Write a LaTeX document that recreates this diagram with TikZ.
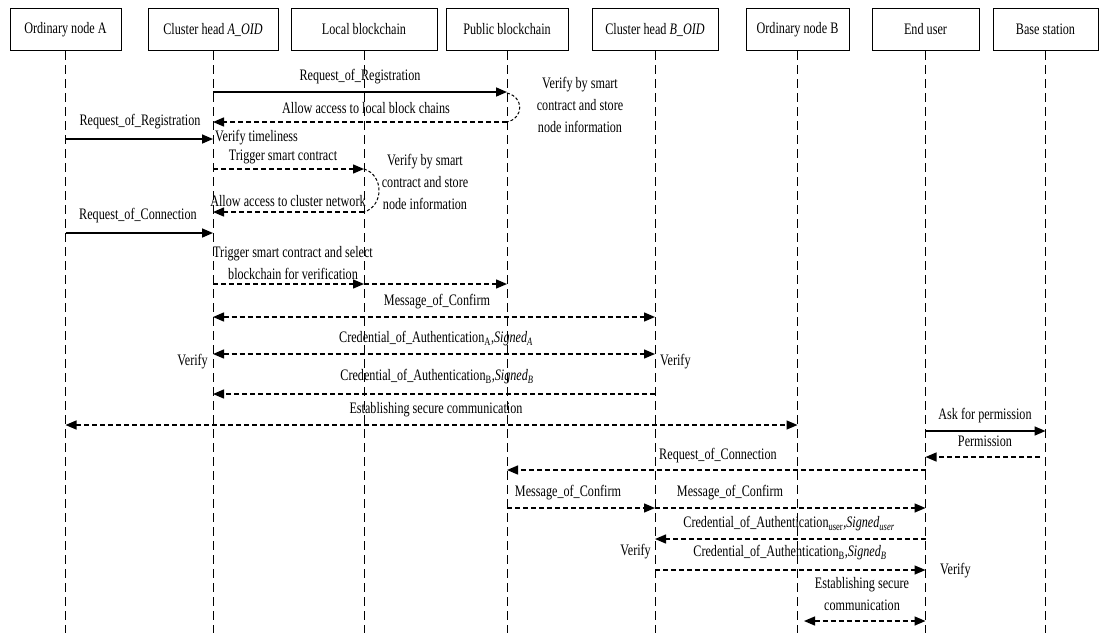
\documentclass[tikz,border=0pt]{standalone}
\usepackage{fontspec}
\setmainfont{Liberation Serif}[FakeStretch=0.76]
\usetikzlibrary{arrows.meta}
\begin{document}
\begin{tikzpicture}[x=1pt,y=-1pt,
  actor/.style={draw,line width=1pt,minimum height=42pt,inner sep=2pt,anchor=north,
                font=\fontsize{16}{21}\selectfont},
  lifeline/.style={line width=0.8pt,dash pattern=on 9pt off 5pt},
  lbl/.style={inner sep=0pt,font=\fontsize{16}{22}\selectfont},
  tip/.style={-{Triangle[length=11pt,width=9pt]}},
  msgsolid/.style={line width=1.6pt,tip},
  msgdash/.style={line width=1.4pt,dash pattern=on 5pt off 3pt,tip},
  msgboth/.style={line width=1.4pt,dash pattern=on 5pt off 3pt,
                  {Triangle[length=11pt,width=9pt]}-{Triangle[length=11pt,width=9pt]}},
  selfloop/.style={line width=1pt,dash pattern=on 3pt off 2pt}
]
\useasboundingbox (0,0) rectangle (1105,633);

% participants
\node[actor,minimum width=111pt] (oa)  at (65.5,8)  {Ordinary node A};
\node[actor,minimum width=130pt] (cha) at (213,8)   {Cluster head \textit{A\_OID}};
\node[actor,minimum width=146pt] (lbc) at (364,8)   {Local blockchain};
\node[actor,minimum width=122pt] (pbc) at (507,8)   {Public blockchain};
\node[actor,minimum width=126pt] (chb) at (655,8)   {Cluster head \textit{B\_OID}};
\node[actor,minimum width=103pt] (ob)  at (797.5,8) {Ordinary node B};
\node[actor,minimum width=107pt] (eu)  at (925.5,8) {End user};
\node[actor,minimum width=105pt] (bs)  at (1045.5,8){Base station};

% lifelines
\foreach \p in {oa,cha,lbc,pbc,chb,ob,eu,bs}
  \draw[lifeline] (\p.south) -- (\p.south |- 0,633);

% registration of cluster head A with the public blockchain
\node[lbl] (l1) at (360,77) {Request\_of\_Registration};
\draw[msgsolid] (cha.south |- 0,92) -- (pbc.south |- 0,92);
\draw[selfloop] (pbc.south |- 0,93) .. controls +(17,4) and +(17,-4) .. (pbc.south |- 0,122);
\node[lbl,align=center] (n1) at (580,105) {Verify by smart\\contract and store\\node information};
\node[lbl] (l2) at (366,108) {Allow access to local block chains};
\draw[msgdash] (pbc.south |- 0,122) -- (cha.south |- 0,122);

% registration of ordinary node A
\node[lbl] (l3) at (140,122) {Request\_of\_Registration};
\draw[msgsolid] (oa.south |- 0,139) -- (cha.south |- 0,139);
\node[lbl,anchor=west] (l4) at (215,138) {Verify timeliness};
\node[lbl] (l5) at (283,157) {Trigger smart contract};
\draw[msgdash] (cha.south |- 0,169) -- (lbc.south |- 0,169);
\draw[selfloop] (lbc.south |- 0,169) .. controls +(20,6) and +(20,-6) .. (lbc.south |- 0,212);
\node[lbl,align=center] (n2) at (425,182) {Verify by smart\\contract and store\\node information};
\node[lbl] (l6) at (288,201) {Allow access to cluster network};
\draw[msgdash] (lbc.south |- 0,212) -- (cha.south |- 0,212);

% connection request
\node[lbl] (l7) at (138,216) {Request\_of\_Connection};
\draw[msgsolid] (oa.south |- 0,233) -- (cha.south |- 0,233);
\node[lbl,align=center] (l8) at (293,263) {Trigger smart contract and select\\blockchain for verification};
\draw[msgdash] (cha.south |- 0,284) -- (lbc.south |- 0,284);
\draw[msgdash] (lbc.south |- 0,284) -- (pbc.south |- 0,284);

% mutual authentication of the cluster heads
\node[lbl] (l9) at (437,302) {Message\_of\_Confirm};
\draw[msgboth] (cha.south |- 0,317) -- (chb.south |- 0,317);
\node[lbl] (l10) at (436,339) {Credential\_of\_Authentication\textsubscript{A},\textit{Signed\textsubscript{A}}};
\draw[msgboth] (cha.south |- 0,354) -- (chb.south |- 0,354);
\node[lbl,anchor=east] (v1) at (208,362) {Verify};
\node[lbl,anchor=west] (v2) at (660,362) {Verify};
\node[lbl] (l11) at (437,377) {Credential\_of\_Authentication\textsubscript{B},\textit{Signed\textsubscript{B}}};
\draw[msgdash] (chb.south |- 0,394) -- (cha.south |- 0,394);
\node[lbl] (l12) at (436,410) {Establishing secure communication};
\draw[msgboth] (oa.south |- 0,425) -- (ob.south |- 0,425);

% end user access
\node[lbl] (l13) at (985,416) {Ask for permission};
\draw[msgsolid] (eu.south |- 0,431) -- (bs.south |- 0,431);
\node[lbl] (l14) at (985,441) {Permission};
\coordinate (permsrc) at (1040,457);
\draw[msgdash] (permsrc) -- (eu.south |- 0,457);
\node[lbl] (l15) at (718,456) {Request\_of\_Connection};
\draw[msgdash] (eu.south |- 0,470) -- (pbc.south |- 0,470);
\node[lbl] (l16) at (568,493) {Message\_of\_Confirm};
\draw[msgdash] (pbc.south |- 0,508) -- (chb.south |- 0,508);
\node[lbl] (l17) at (730,493) {Message\_of\_Confirm};
\draw[msgdash] (chb.south |- 0,508) -- (eu.south |- 0,508);
\node[lbl] (l18) at (789,524) {Credential\_of\_Authentication\textsubscript{user},\textit{Signed\textsubscript{user}}};
\draw[msgdash] (eu.south |- 0,539) -- (chb.south |- 0,539);
\node[lbl,anchor=east] (v3) at (651,552) {Verify};
\node[lbl] (l19) at (790,553) {Credential\_of\_Authentication\textsubscript{B},\textit{Signed\textsubscript{B}}};
\draw[msgdash] (chb.south |- 0,570) -- (eu.south |- 0,570);
\node[lbl,anchor=west] (v4) at (940,571) {Verify};
\node[lbl,align=center] (l20) at (862,594) {Establishing secure\\communication};
\coordinate (secsrc) at (804,621);
\draw[msgboth] (secsrc) -- (eu.south |- 0,621);
\end{tikzpicture}
\end{document}
